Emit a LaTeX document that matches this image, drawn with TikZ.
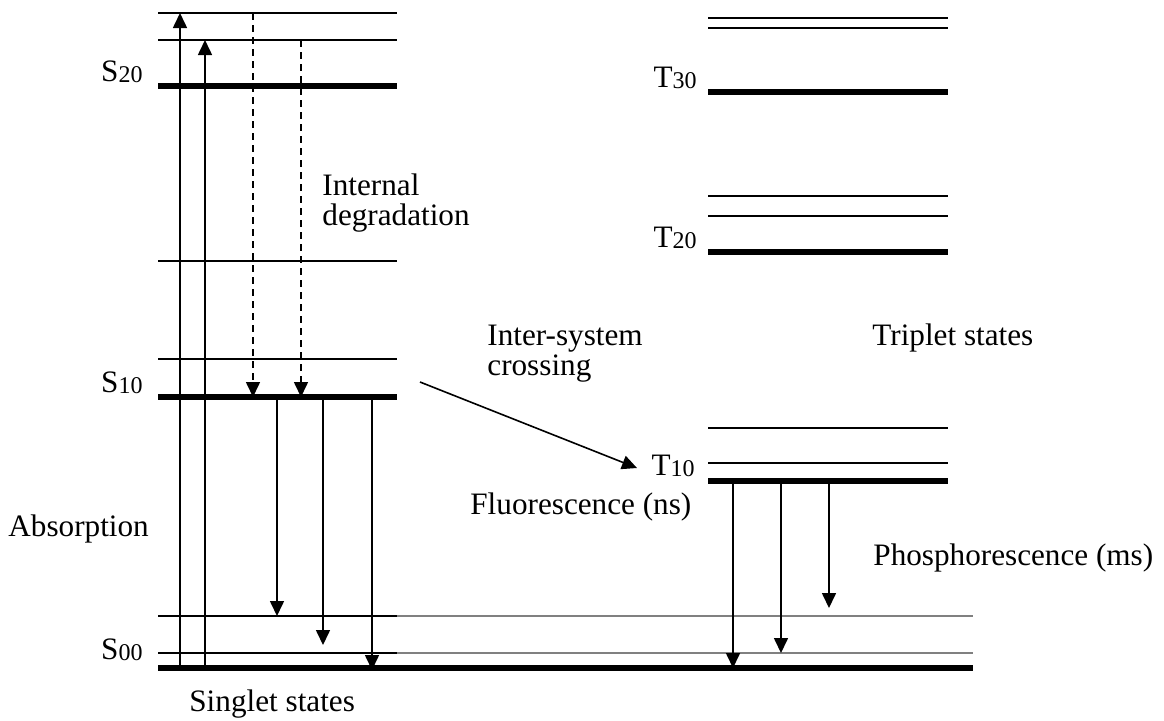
\documentclass[tikz,border=0pt]{standalone}
\usepackage{fontspec}
\setmainfont{Liberation Serif}
\usetikzlibrary{arrows.meta}
\newcommand{\sublvl}[1]{{\fontsize{12}{12}\selectfont\raisebox{-0.6pt}{#1}}}

\begin{document}
\begin{tikzpicture}[x=0.5pt,y=-0.5pt,
    thinlvl/.style={line width=1pt},
    thicklvl/.style={line width=2.6pt},
    faintlvl/.style={line width=0.8pt,gray},
    trans/.style={line width=0.8pt,-{Triangle[width=7pt,length=7.5pt]}},
    lbl/.style={inner sep=0pt,font=\fontsize{15.6}{15}\selectfont}]
    \useasboundingbox (0,0) rectangle (1164,720);
    \foreach \y in {13,40,261,359,616,653} \draw[thinlvl] (158,\y) -- (397,\y);
    \foreach \y in {86,397} \draw[thicklvl] (158,\y) -- (397,\y);
    \foreach \y in {616,653} \draw[faintlvl] (397,\y) -- (973,\y);
    \draw[thicklvl] (158,668) -- (973,668);
    \foreach \y in {18,28,196,216,428,463} \draw[thinlvl] (708,\y) -- (948,\y);
    \foreach \y in {92,252,481} \draw[thicklvl] (708,\y) -- (948,\y);
    \foreach \n/\x/\a/\b in {abs1/180/668/13, abs2/205/668/40,
        fl1/277/397/616, fl2/323/397/645, fl3/372/397/670,
        ph1/733/481/668, ph2/781/481/653, ph3/829/481/608} {
        \coordinate (\n s) at (\x,\a);
        \coordinate (\n e) at (\x,\b);
        \draw[trans] (\n s) -- (\n e);
    }
    \foreach \n/\x/\a/\b in {deg1/253/13/397, deg2/301/40/397} {
        \coordinate (\n s) at (\x,\a);
        \coordinate (\n e) at (\x,\b);
        \draw[trans,dash pattern=on 3.5pt off 2.5pt] (\n s) -- (\n e);
    }
    \coordinate (iscs) at (420,382);
    \coordinate (isce) at (637,468);
    \draw[trans] (iscs) -- (isce);
    \node[lbl,anchor=base east] (s20) at (143,81) {S\sublvl{20}};
    \node[lbl,anchor=base east] (s10) at (143,392) {S\sublvl{10}};
    \node[lbl,anchor=base east] (s00) at (143,659) {S\sublvl{00}};
    \node[lbl,anchor=base east] (t30) at (697,87) {T\sublvl{30}};
    \node[lbl,anchor=base east] (t20) at (697,247) {T\sublvl{20}};
    \node[lbl,anchor=base east] (t10) at (695,475) {T\sublvl{10}};
    \node[lbl,anchor=base west] (deg) at (322,195) {Internal};
    \node[lbl,anchor=base west] (deg2) at (322,225) {degradation};
    \node[lbl,anchor=base west] (isc) at (487,345) {Inter-system};
    \node[lbl,anchor=base west] (isc2) at (487,375) {crossing};
    \node[lbl,anchor=base west] (trip) at (872,345) {Triplet states};
    \node[lbl,anchor=base west] (absn) at (8,536) {Absorption};
    \node[lbl,anchor=base west] (fluo) at (470,514) {Fluorescence (ns)};
    \node[lbl,anchor=base west] (phos) at (873,565) {Phosphorescence (ms)};
    \node[lbl,anchor=base west] (sing) at (189,711) {Singlet states};
\end{tikzpicture}
\end{document}
